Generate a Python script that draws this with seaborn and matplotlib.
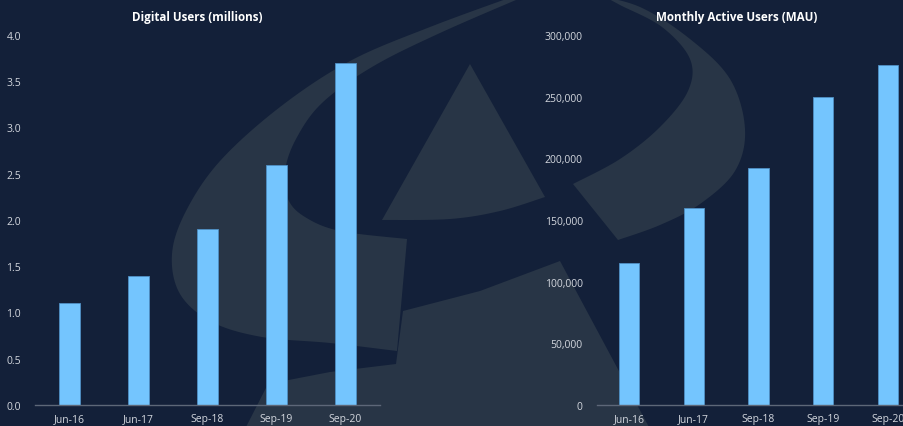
import numpy as np
import pandas as pd
import matplotlib
matplotlib.use("Agg")
import matplotlib.pyplot as plt
from matplotlib.patches import Polygon
from matplotlib.ticker import FuncFormatter, MultipleLocator
import seaborn as sns

# ---- data ----
periods = ["Jun-16", "Jun-17", "Sep-18", "Sep-19", "Sep-20"]
digital_users_m = [1.1, 1.4, 1.9, 2.6, 3.7]
mau = [115000, 160000, 192000, 250000, 276000]

BG = "#132039"
WM = "#283546"
BAR = "#74c5fe"
BAR_EDGE = "#4f8fc4"
TXT = "#d3d7de"

sns.set_theme(style="dark")
plt.rcParams["font.family"] = ["Open Sans", "DejaVu Sans"]

W, H = 904, 427
fig = plt.figure(figsize=(W / 100, H / 100), dpi=100, facecolor=BG)


def fx(x):
    return x / W


def fy(y):
    return 1 - y / H


def smooth(pts, n=12, closed=False):
    p = np.asarray(pts, float)
    if closed:
        p = np.vstack([p[-1], p, p[0], p[1]])
    else:
        p = np.vstack([p[0], p, p[-1]])
    out = []
    for i in range(1, len(p) - 2):
        p0, p1, p2, p3 = p[i - 1], p[i], p[i + 1], p[i + 2]
        for t in np.linspace(0, 1, n, endpoint=False):
            t2, t3 = t * t, t * t * t
            out.append(0.5 * ((2 * p1) + (-p0 + p2) * t + (2 * p0 - 5 * p1 + 4 * p2 - p3) * t2
                              + (-p0 + 3 * p1 - 3 * p2 + p3) * t3))
    out.append(p[-2])
    return np.array(out)


def add_shape(pts):
    pts = np.asarray(pts, float)
    xy = np.column_stack([fx(pts[:, 0]), fy(pts[:, 1])])
    poly = Polygon(xy, closed=True, transform=fig.transFigure, facecolor=WM,
                   edgecolor="none", zorder=-5)
    fig.patches.append(poly)


# watermark: left C-shaped swoosh
outer = smooth([(520, -5), (430, 28), (350, 62), (280, 108), (220, 162), (186, 212),
                (172, 255), (180, 295), (212, 323), (262, 338), (330, 344), (397, 352)])
inner = smooth([(407, 240), (340, 232), (305, 218), (288, 200), (285, 172), (296, 140),
                (322, 104), (372, 68), (440, 34), (530, -5)])
add_shape(np.vstack([outer, inner]))

# right arc of swoosh
r_outer = smooth([(590, -5), (640, 8), (690, 40), (730, 80), (745, 130), (735, 172),
                  (700, 205), (660, 226), (618, 241)])
r_inner = smooth([(573, 185), (620, 160), (660, 128), (688, 92), (690, 60), (662, 28),
                  (620, 6), (600, -5)])
add_shape(np.vstack([r_outer, r_inner]))

# triangle
tri_base = smooth([(545, 198), (500, 212), (450, 220), (382, 221)])
add_shape(np.vstack([[(470, 65)], tri_base]))

# lower block
add_shape([(245, 430), (268, 385), (330, 373), (396, 365), (403, 312), (480, 292),
           (560, 262), (650, 430)])

# ---- axes ----
y0, y1 = 406, 36
ax1 = fig.add_axes([fx(35), fy(y0), fx(380) - fx(35), fy(y1) - fy(y0)])
ax2 = fig.add_axes([fx(596.6), fy(y0), 5 * 64.75 / W, fy(y1) - fy(y0)])

df1 = pd.DataFrame({"period": periods, "value": digital_users_m})
df2 = pd.DataFrame({"period": periods, "value": mau})

for ax, df in ((ax1, df1), (ax2, df2)):
    ax.set_facecolor("none")
    sns.barplot(data=df, x="period", y="value", ax=ax, color=BAR, saturation=1,
                width=0.31, edgecolor=BAR_EDGE, linewidth=0.6, zorder=3)
    ax.set_xlim(-0.5, len(periods) - 0.5)
    ax.set_xlabel("")
    ax.set_ylabel("")
    ax.grid(False)
    for s in ("top", "right", "left"):
        ax.spines[s].set_visible(False)
    ax.spines["bottom"].set_color("#5d6778")
    ax.spines["bottom"].set_linewidth(1.0)
    ax.spines["bottom"].set_zorder(4)
    ax.tick_params(axis="both", length=0, colors=TXT, labelsize=7.5)
    ax.tick_params(axis="y", pad=10)
    ax.tick_params(axis="x", pad=6)

ax1.set_ylim(0, 4.0)
ax1.yaxis.set_major_locator(MultipleLocator(0.5))
ax1.yaxis.set_major_formatter(FuncFormatter(lambda v, p: f"{v:.1f}"))

ax2.set_ylim(0, 300000)
ax2.yaxis.set_major_locator(MultipleLocator(50000))
ax2.yaxis.set_major_formatter(FuncFormatter(lambda v, p: f"{v:,.0f}"))

fig.text(fx(197), fy(18), "Digital Users (millions)", ha="center", va="center",
         color="white", fontsize=8.4, fontweight="bold")
fig.text(fx(737), fy(18), "Monthly Active Users (MAU)", ha="center", va="center",
         color="white", fontsize=8.4, fontweight="bold")

fig.savefig("out.png", dpi=100, facecolor=BG)
